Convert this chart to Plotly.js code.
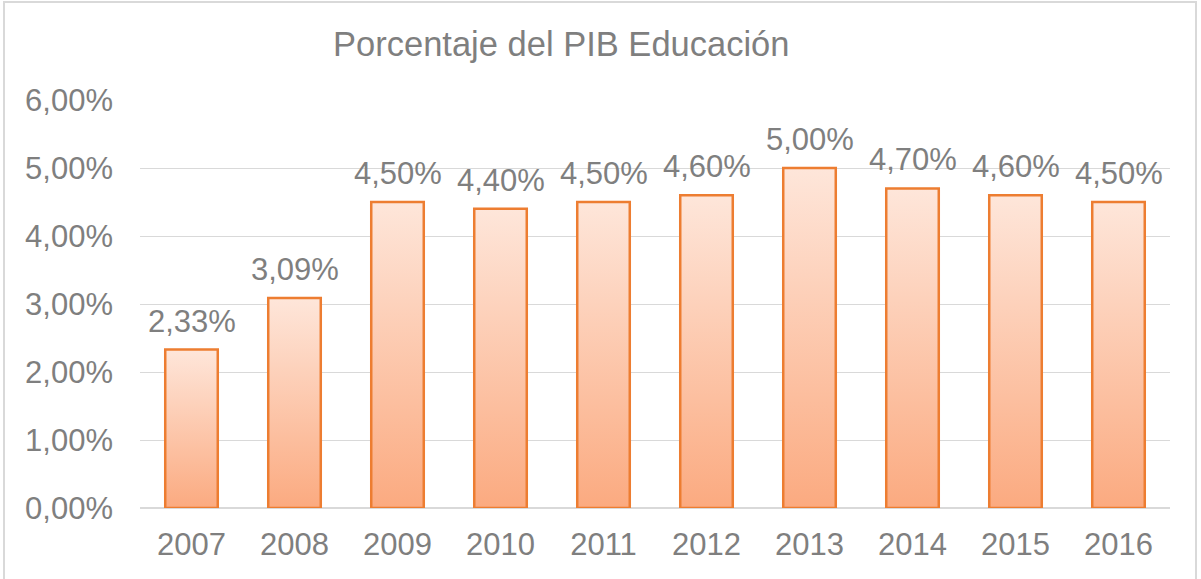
<!DOCTYPE html>
<html>
<head>
<meta charset="utf-8">
<script src="https://cdn.plot.ly/plotly-3.0.1.min.js"></script>
<style>
html,body{margin:0;padding:0;background:#fff;}
#frame{position:absolute;left:3px;top:1px;width:1194px;height:620px;border:2px solid #d9d9d9;box-sizing:border-box;}
#chart{position:absolute;left:0;top:0;width:1201px;height:579px;}
</style>
</head>
<body>
<div id="frame"></div>
<div id="chart"></div>
<script>
const years = ['2007','2008','2009','2010','2011','2012','2013','2014','2015','2016'];
const values = [2.33, 3.09, 4.50, 4.40, 4.50, 4.60, 5.00, 4.70, 4.60, 4.50];
const yTicks = [0,1,2,3,4,5,6];
const yTickText = yTicks.map(v => v.toFixed(2).replace('.', ',') + '%');
const titleText = 'Porcentaje del PIB Educación';

const fontFam = '"Liberation Sans", Arial, sans-serif';
const grey = '#7f7f7f';

const trace = {
  type: 'bar',
  x: years,
  y: values,
  marker: {color: '#FCC3A4', line: {color: '#ED7D31', width: 2.5}},
  hoverinfo: 'none'
};

const annotations = years.map((yr, i) => ({
  x: i, y: values[i], xref: 'x', yref: 'y',
  text: values[i].toFixed(2).replace('.', ',') + '%',
  showarrow: false, yanchor: 'bottom', yshift: 9,
  font: {family: fontFam, size: 31, color: grey}
}));

const layout = {
  width: 1201, height: 579,
  margin: {l: 140, r: 31, t: 100, b: 71},
  paper_bgcolor: 'rgba(0,0,0,0)',
  plot_bgcolor: 'rgba(0,0,0,0)',
  bargap: 0.49,
  showlegend: false,
  title: {
    text: titleText,
    font: {family: fontFam, size: 34.5, color: grey},
    xref: 'paper', x: 0.409, xanchor: 'center',
    yref: 'container', y: 0.925, yanchor: 'middle'
  },
  xaxis: {
    type: 'category',
    range: [-0.5, 9.5], autorange: false,
    showgrid: false, showline: false, zeroline: false,
    ticks: '', ticklabelstandoff: 15,
    tickfont: {family: fontFam, size: 31, color: grey}
  },
  yaxis: {
    range: [0, 6], autorange: false,
    tickvals: yTicks, ticktext: yTickText,
    showgrid: true, gridcolor: '#d9d9d9', gridwidth: 1,
    zeroline: true, zerolinecolor: '#d9d9d9', zerolinewidth: 1.5,
    showline: false, ticks: '', ticklabelstandoff: 26,
    tickfont: {family: fontFam, size: 31, color: grey}
  },
  annotations: annotations
};

Plotly.newPlot('chart', [trace], layout, {displayModeBar: false, staticPlot: true}).then(gd => {
  const svg = gd.querySelector('svg.main-svg');
  const ns = 'http://www.w3.org/2000/svg';
  let defs = svg.querySelector('defs');
  if (!defs) { defs = document.createElementNS(ns, 'defs'); svg.insertBefore(defs, svg.firstChild); }
  const g = document.createElementNS(ns, 'linearGradient');
  g.setAttribute('id', 'barGrad');
  g.setAttribute('x1', '0'); g.setAttribute('y1', '0');
  g.setAttribute('x2', '0'); g.setAttribute('y2', '1');
  [['0', '#FEE6DA'], ['1', '#FBAA80']].forEach(([o, c]) => {
    const s = document.createElementNS(ns, 'stop');
    s.setAttribute('offset', o); s.setAttribute('stop-color', c);
    g.appendChild(s);
  });
  defs.appendChild(g);
  gd.querySelectorAll('.barlayer .point path').forEach(p => {
    p.style.fill = 'url(#barGrad)';
    p.style.fillOpacity = '1';
  });
});
</script>
</body>
</html>
